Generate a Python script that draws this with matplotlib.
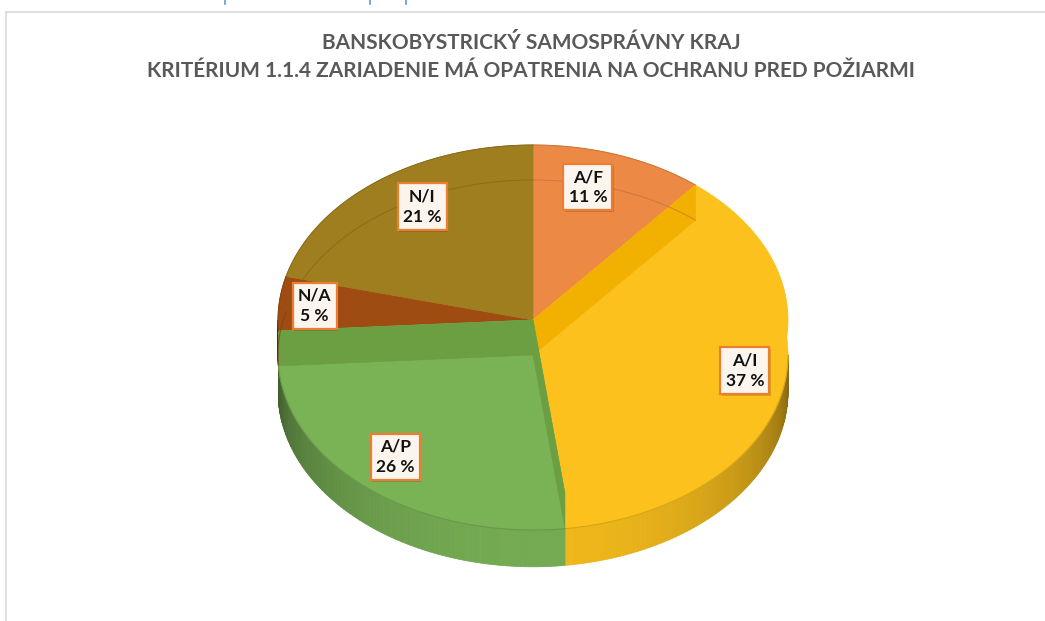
import numpy as np
import matplotlib
matplotlib.use("Agg")
import matplotlib.pyplot as plt
from matplotlib.patches import Polygon
from matplotlib.colors import to_rgb

# -------------------------
# DATA
# -------------------------
labels = ["A/F", "A/I", "A/P", "N/A", "N/I"]
values = [11, 37, 26, 5, 21]
colors = ["#EC8A45", "#FCC11C", "#7AB356", "#9E4C12", "#9E7E1E"]
strip_colors = ["#E07B35", "#F2B000", "#6C9E42", "#8E420E", "#8C6F18"]
lowered = [False, True, True, False, False]

title = ("BANSKOBYSTRICKÝ SAMOSPRÁVNY KRAJ\n"
         "KRITÉRIUM 1.1.4 ZARIADENIE MÁ OPATRENIA NA OCHRANU PRED POŽIARMI")

# label placement (radius, angle offset in deg)
label_r = [0.79, 0.88, 0.95, 0.86, 0.78]
label_da = [4, -3, 5, 0, -4]

# -------------------------
# PSEUDO 3D PROJECTION (pixel coords)
# -------------------------
W, Hpx = 1045, 621
CX, CY = 533, 320
AX, BY, CZ = 255, 175, 175
DZ = 0.2      # depth of the lowered faces
WALL = 0.21   # side wall height


def proj(x, y, z):
    return CX + AX * np.asarray(x), CY - BY * np.asarray(y) - CZ * np.asarray(z)


def arc(a0, a1, z, n=None):
    if n is None:
        n = max(2, int(abs(a1 - a0)) + 2)
    a = np.radians(np.linspace(a0, a1, n))
    X, Y = proj(np.cos(a), np.sin(a), np.full(n, z))
    return np.column_stack([X, Y])


def face(a0, a1, z):
    c = np.array(proj(0, 0, z)).reshape(1, 2)
    return np.vstack([c, arc(a0, a1, z)])


def shade(col, f):
    r, g, b = to_rgb(col)
    return (r * f, g * f, b * f)


fracs = np.array(values) / sum(values)
bounds = 90 - 360 * np.concatenate([[0], np.cumsum(fracs)])
starts, ends = bounds[:-1], bounds[1:]

fig = plt.figure(figsize=(W / 100, Hpx / 100), dpi=100)
ax = fig.add_axes([0, 0, 1, 1])
ax.set_xlim(0, W)
ax.set_ylim(Hpx, 0)
ax.axis("off")

# frame + page marks
ax.plot([6, W], [11.5, 11.5], color="#D9D9D9", lw=1.2)
ax.plot([6, 6], [11.5, Hpx], color="#D9D9D9", lw=1.2)
for xm in [225, 370, 406]:
    ax.plot([xm, xm], [0, 4], color="#5B9BD5", lw=1.2)

# -------------------------
# SIDE WALLS (front half)
# -------------------------
for i in range(len(values)):
    a_hi, a_lo = starts[i], ends[i]
    lo, hi = max(a_lo, -180), min(a_hi, 0)
    if lo >= hi:
        continue
    ztop = -DZ if lowered[i] else 0
    angs = np.arange(hi, lo, -1.0)
    angs = np.append(angs, lo)
    for k in range(len(angs) - 1):
        am = np.radians(0.5 * (angs[k] + angs[k + 1]))
        t = max(0.0, -np.sin(am))
        f = 0.48 + 0.47 * t ** 0.8
        top = arc(angs[k], angs[k + 1], ztop, 2)
        bot = arc(angs[k + 1], angs[k], ztop - WALL, 2)
        col = shade(colors[i], f)
        ax.add_patch(Polygon(np.vstack([top, bot]), closed=True,
                             fc=col, ec=col, lw=0.6))

# -------------------------
# TOP FACES
# -------------------------
order = [0, 3, 4, 1, 2]
for i in order:
    a0, a1 = starts[i], ends[i]
    ax.add_patch(Polygon(face(a0, a1, 0), closed=True,
                         fc=colors[i], ec=colors[i], lw=0.5))
    if lowered[i]:
        ax.add_patch(Polygon(face(a0, a1, -DZ), closed=True,
                             fc=colors[i], ec=colors[i], lw=0.5))
        # radial inner walls facing the viewer
        for ae in ([a0] if i == 1 else [a1, a0]):
            r = np.radians(ae)
            p0 = proj(0, 0, 0)
            p1 = proj(np.cos(r), np.sin(r), 0)
            p2 = proj(np.cos(r), np.sin(r), -DZ)
            p3 = proj(0, 0, -DZ)
            ax.add_patch(Polygon([p0, p1, p2, p3], closed=True,
                                 fc=strip_colors[i], ec=strip_colors[i], lw=0.4))
        fr = arc(max(a1, -180), min(a0, 0), -DZ)
        ax.plot(fr[:, 0], fr[:, 1], color=shade(colors[i], 0.85), lw=0.8)
    else:
        # faint bevel line and rim
        inner = arc(a0, a1, -DZ)
        ax.plot(inner[:, 0], inner[:, 1], color=shade(colors[i], 0.8),
                lw=0.8, alpha=0.6)
        rim = arc(a0, a1, 0)
        ax.plot(rim[:, 0], rim[:, 1], color=shade(colors[i], 0.85), lw=0.7)

# -------------------------
# LABELS
# -------------------------
for i in range(len(values)):
    am = np.radians(0.5 * (starts[i] + ends[i]) + label_da[i])
    lx, ly = proj(label_r[i] * np.cos(am), label_r[i] * np.sin(am), 0)
    txt = f"{labels[i]}\n{values[i]} %"
    ax.text(lx + 1.5, ly + 2, txt, ha="center", va="center", fontsize=12.5,
            fontweight="bold", family="Lato", color="none", linespacing=1.3,
            bbox=dict(boxstyle="square,pad=0.3", fc="#000000", ec="none",
                      alpha=0.15))
    ax.text(lx, ly, txt, ha="center", va="center", fontsize=12.5,
            fontweight="bold", family="Lato", color="#111111",
            linespacing=1.3,
            bbox=dict(boxstyle="square,pad=0.3", fc="#FBF5EE", ec="#ED7D31",
                      lw=1.6))

# -------------------------
# TITLE
# -------------------------
ax.text(531, 57, title, ha="center", va="center", fontsize=15,
        fontweight="bold", family="Lato", color="#595959", linespacing=1.45)

fig.savefig("out.png", dpi=100)
